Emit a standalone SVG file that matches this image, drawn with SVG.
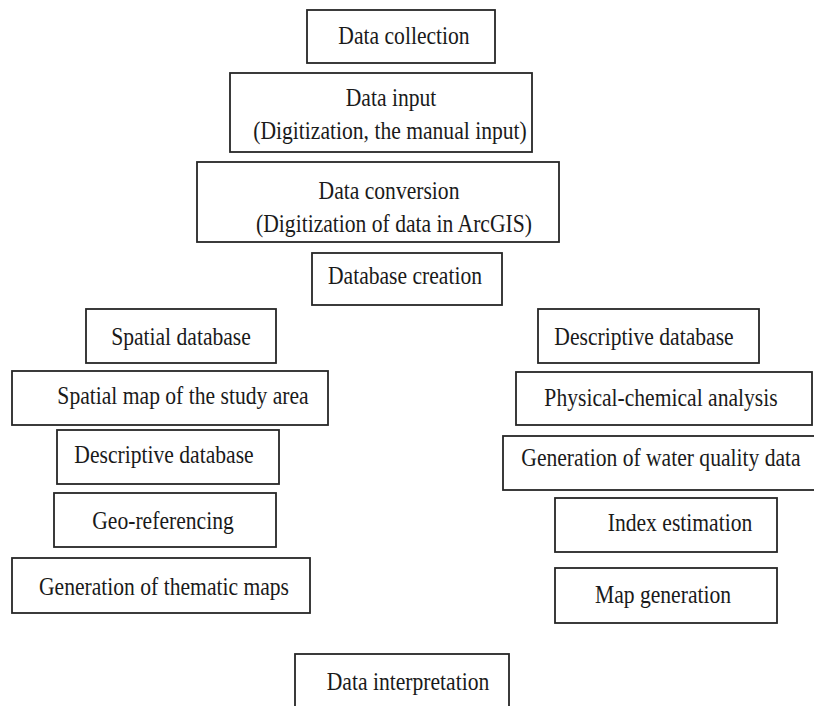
<svg xmlns="http://www.w3.org/2000/svg" width="814" height="706" viewBox="0 0 814 706">
<style>
rect{fill:#fff;stroke:#262626;stroke-width:1.8}
text{font-size:21.6px;fill:#1a1a1a;text-anchor:middle;font-family:"Liberation Serif","Times New Roman",Times,serif}
</style>
<rect x="0" y="0" width="814" height="706" style="stroke:none"/>
<g id="data-collection"><rect x="307" y="10" width="188" height="53"/><text transform="translate(404,44) scale(1,1.19)">Data collection</text></g>
<g id="data-input"><rect x="230" y="73" width="302" height="79"/><text transform="translate(391,106) scale(1,1.19)">Data input</text><text transform="translate(390,139) scale(1,1.19)">(Digitization, the manual input)</text></g>
<g id="data-conversion"><rect x="197" y="162" width="362" height="80"/><text transform="translate(389,199) scale(1,1.19)">Data conversion</text><text transform="translate(394,232) scale(1,1.19)">(Digitization of data in ArcGIS)</text></g>
<g id="database-creation"><rect x="312" y="253" width="190" height="52"/><text transform="translate(405,284) scale(1,1.19)">Database creation</text></g>
<g id="spatial-database"><rect x="86" y="309" width="190" height="54"/><text transform="translate(181,345) scale(1,1.19)">Spatial database</text></g>
<g id="spatial-map"><rect x="12" y="371" width="316" height="54"/><text transform="translate(183,404) scale(1,1.19)">Spatial map of the study area</text></g>
<g id="descriptive-database-left"><rect x="57" y="430" width="222" height="54"/><text transform="translate(164,463) scale(1,1.19)">Descriptive database</text></g>
<g id="geo-referencing"><rect x="54" y="493" width="222" height="54"/><text transform="translate(163,529) scale(1,1.19)">Geo-referencing</text></g>
<g id="thematic-maps"><rect x="12" y="558" width="298" height="55"/><text transform="translate(164,595) scale(1,1.19)">Generation of thematic maps</text></g>
<g id="descriptive-database-right"><rect x="538" y="309" width="221" height="54"/><text transform="translate(644,345) scale(1,1.19)">Descriptive database</text></g>
<g id="physical-chemical"><rect x="516" y="372" width="296" height="53"/><text transform="translate(661,406) scale(1,1.19)">Physical-chemical analysis</text></g>
<g id="water-quality"><rect x="503" y="436" width="316" height="54"/><text transform="translate(661,466) scale(1,1.19)">Generation of water quality data</text></g>
<g id="index-estimation"><rect x="555" y="498" width="222" height="54"/><text transform="translate(680,531) scale(1,1.19)">Index estimation</text></g>
<g id="map-generation"><rect x="555" y="568" width="222" height="55"/><text transform="translate(663,603) scale(1,1.19)">Map generation</text></g>
<g id="data-interpretation"><rect x="295" y="654" width="214" height="60"/><text transform="translate(408,690) scale(1,1.19)">Data interpretation</text></g>
<g id="connectors"></g>
</svg>
